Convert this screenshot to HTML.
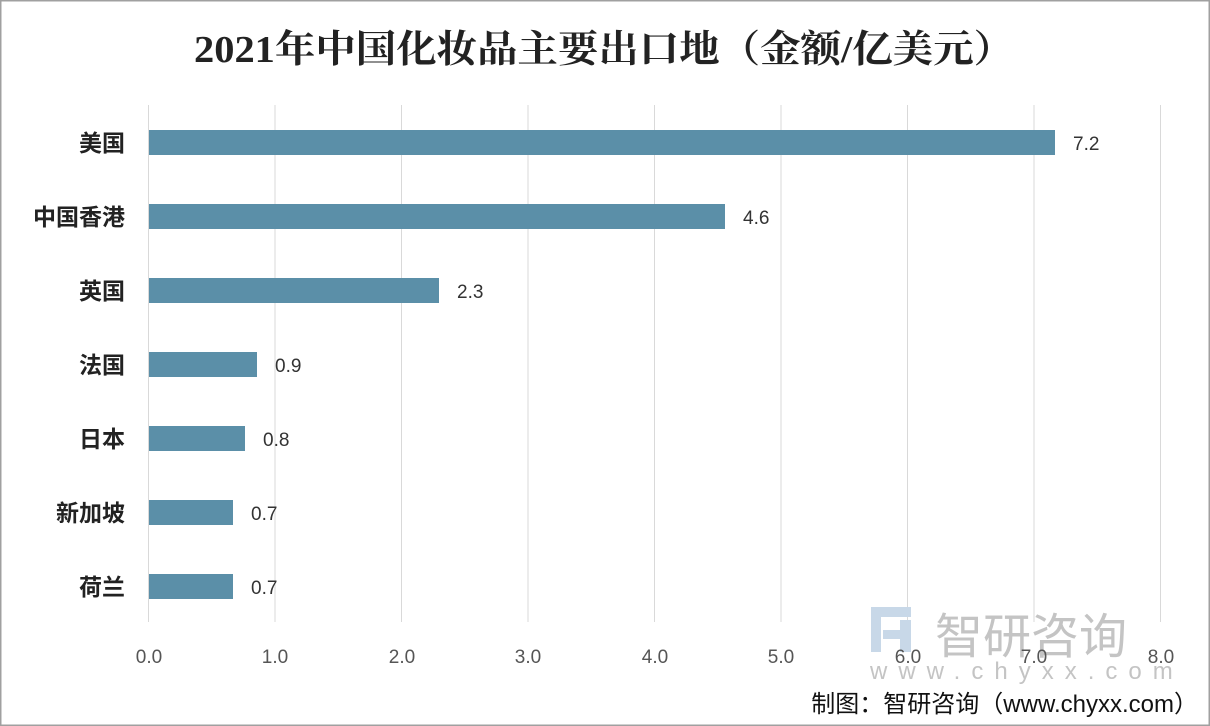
<!DOCTYPE html>
<html><head><meta charset="utf-8"><style>
body{margin:0;width:1210px;height:726px;background:#fff;overflow:hidden}
svg{display:block}
text{font-family:"Liberation Sans","Noto Sans CJK SC",sans-serif}
text.t{font-family:"Liberation Serif","Noto Serif CJK SC",serif}
</style></head><body>
<svg width="1210" height="726" viewBox="0 0 1210 726">
<rect x="0.5" y="0.5" width="1209" height="725" fill="#fff" stroke="#a0a0a0" stroke-width="2"/>
<text class="t" x="604" y="62" text-anchor="middle" font-size="38" font-weight="bold" fill="#222" textLength="820" lengthAdjust="spacingAndGlyphs">2021年中国化妆品主要出口地（金额/亿美元）</text>
<g stroke="#d9d9d9" stroke-width="1">
<line x1="148.5" y1="105" x2="148.5" y2="622"/><line x1="275" y1="105" x2="275" y2="622"/><line x1="401.5" y1="105" x2="401.5" y2="622"/><line x1="528" y1="105" x2="528" y2="622"/><line x1="654.5" y1="105" x2="654.5" y2="622"/><line x1="781" y1="105" x2="781" y2="622"/><line x1="907.5" y1="105" x2="907.5" y2="622"/><line x1="1034" y1="105" x2="1034" y2="622"/><line x1="1160.5" y1="105" x2="1160.5" y2="622"/>
</g>
<g fill="#5b8fa8">
<rect x="149" y="130" width="906" height="25"/>
<rect x="149" y="204" width="576" height="25"/>
<rect x="149" y="278" width="290" height="25"/>
<rect x="149" y="352" width="108" height="25"/>
<rect x="149" y="426" width="96" height="25"/>
<rect x="149" y="500" width="84" height="25"/>
<rect x="149" y="574" width="84" height="25"/>
</g>
<g font-size="19" fill="#333">
<text x="1073" y="150">7.2</text><text x="743" y="224">4.6</text><text x="457" y="298">2.3</text><text x="275" y="372">0.9</text><text x="263" y="446">0.8</text><text x="251" y="520">0.7</text><text x="251" y="594">0.7</text>
</g>
<g font-size="23" font-weight="bold" fill="#222" text-anchor="end">
<text x="125" y="151">美国</text><text x="125" y="225">中国香港</text><text x="125" y="299">英国</text><text x="125" y="373">法国</text><text x="125" y="447">日本</text><text x="125" y="521">新加坡</text><text x="125" y="595">荷兰</text>
</g>
<g fill="#c8d8e8"><rect x="871" y="607" width="40" height="10"/><rect x="871" y="607" width="10" height="45"/><rect x="900" y="620" width="11" height="32"/><rect x="883" y="630" width="20" height="9"/></g>
<text x="935" y="653" font-size="48" fill="#c4c4c4">智研咨询</text>
<text x="870" y="679" font-size="24" fill="#c4c4c4" letter-spacing="11">www.chyxx.com</text>
<g font-size="19" fill="#555" text-anchor="middle">
<text x="149" y="663">0.0</text><text x="275" y="663">1.0</text><text x="402" y="663">2.0</text><text x="528" y="663">3.0</text><text x="655" y="663">4.0</text><text x="781" y="663">5.0</text><text x="908" y="663">6.0</text><text x="1034" y="663">7.0</text><text x="1161" y="663">8.0</text>
</g>
<text x="1198" y="712" text-anchor="end" font-size="24" fill="#111">制图：智研咨询（www.chyxx.com）</text>
</svg>
</body></html>
